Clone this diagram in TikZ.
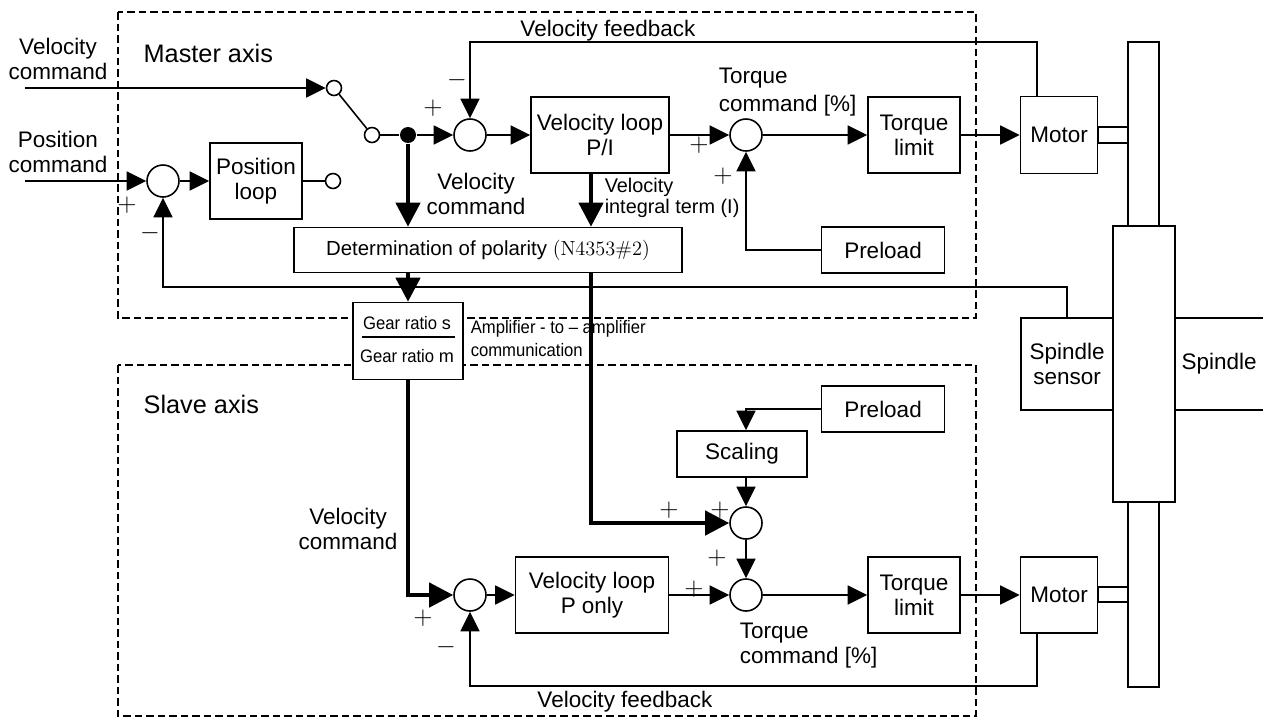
\documentclass[tikz,border=0pt]{standalone}
\usepackage{fontspec}
\usepackage{tikz}
\usetikzlibrary{positioning, calc, arrows.meta}
\newfontfamily\arial{Liberation Sans}
\newfontfamily\arialn[FakeStretch=0.92]{Liberation Sans}

\begin{document}
\begin{tikzpicture}[x=0.02cm, y=-0.02cm, line width=0.9pt,
    font=\arial\fontsize{12.8}{14.2}\selectfont,
    >={Triangle[length=3.9mm, width=3.8mm]},
    blk/.style 2 args={draw, align=center, inner sep=0pt, minimum width=#1*0.02cm, minimum height=#2*0.02cm},
    sum/.style={circle, draw, inner sep=0pt, minimum size=0.64cm},
    term/.style={circle, draw, inner sep=0pt, minimum size=0.3cm},
    junc/.style={circle, fill, inner sep=0pt, minimum size=0.32cm},
    sig/.style={font=\fontsize{15.5}{15.5}\selectfont, inner sep=0pt},
    thk/.style={line width=2.5pt, -{Triangle[length=4.8mm, width=4.8mm]}},
    region/.style={dash pattern=on 1.5mm off 0.8mm}]
    \useasboundingbox (0,0) rectangle (1263,718);

    % Axis frames
    \draw[region] (118,12) rectangle (976,318);
    \draw[region] (118,365) rectangle (976,716);
    \node[anchor=base west, font=\arial\fontsize{14.4}{16}\selectfont] (mastertxt) at (137,62) {Master axis};
    \node[anchor=base west, font=\arial\fontsize{14.4}{16}\selectfont] (slavetxt) at (137,413) {Slave axis};

    % Inputs
    \node[align=center, inner sep=0pt] (vcmdin) at (58,59) {Velocity\\command};
    \node[align=center, inner sep=0pt] (pcmdin) at (58,152) {Position\\command};
    \coordinate (vin) at (25,88);
    \coordinate (pin) at (25,181);

    % Master axis blocks
    \node[term] (sw1) at (334,88) {};
    \node[term] (sw2) at (372,135) {};
    \node[junc] (dot) at (408,135) {};
    \node[sum] (psum) at (163,181) {};
    \node[blk={92}{76}] (posloop) at (256,181) {Position\\loop};
    \node[term] (pout) at (333,181) {};
    \node[sum] (s1) at (470,135) {};
    \node[blk={138}{76}] (vlpi) at (600,135) {Velocity loop\\P/I};
    \node[sum] (s2) at (746,135) {};
    \node[blk={92}{76}] (tlim1) at (914,135) {Torque\\limit};
    \node[blk={77}{77}] (motor1) at (1059,135) {Motor};
    \node[blk={123}{46}] (pre1) at (883,250) {Preload};
    \node[blk={388}{45}, font=\arial\fontsize{11.6}{13}\selectfont] (polarity) at (488,250)
        {Determination of polarity {\rmfamily (N4353\#2)}};

    % Gear ratio (amplifier to amplifier)
    \node[blk={110}{77}, fill=white] (gear) at (408,341) {};
    \node[anchor=base, inner sep=0pt, font=\arialn\fontsize{10.3}{13}\selectfont] (gs) at (407,329) {Gear ratio {\arial s}};
    \node[anchor=base, inner sep=0pt, font=\arialn\fontsize{10.3}{13}\selectfont] (gm) at (407,362) {Gear ratio {\arial m}};
    \draw (362,337) -- (455,337);
    \node[anchor=north west, align=left, inner sep=0pt, font=\arialn\fontsize{10.3}{13}\selectfont] (amptxt) at (470,320)
        {Amplifier - to – amplifier\\communication};

    % Slave axis blocks
    \node[blk={123}{46}] (pre2) at (883,409) {Preload};
    \node[blk={130}{46}] (scaling) at (742,454) {Scaling};
    \node[sum] (s3) at (746,523) {};
    \node[sum] (s4) at (746,595) {};
    \node[sum] (s5) at (470,595) {};
    \node[blk={153}{76}] (vlp) at (592,595) {Velocity loop\\P only};
    \node[blk={92}{76}] (tlim2) at (914,595) {Torque\\limit};
    \node[blk={77}{76}] (motor2) at (1059,595) {Motor};

    % Spindle
    \node[blk={92}{92}] (sensor) at (1067,364) {Spindle\\sensor};
    \node (spindle) at (1219,364) {Spindle};
    \draw (1128,42) rectangle (1159,226);
    \draw (1113,226) rectangle (1175,502);
    \draw (1128,502) rectangle (1159,687);
    \draw (1098,127) rectangle (1128,143);
    \draw (1098,587) rectangle (1128,602);
    \draw (1175,318) -- (1263,318) (1175,410) -- (1263,410);

    % Master signal path
    \draw[->] (vin) -- (sw1);
    \draw (sw1) -- (sw2);
    \draw (sw2) -- (dot);
    \draw[->] (pin) -- (psum);
    \draw[->] (psum) -- (posloop);
    \draw (posloop) -- (pout);
    \draw[->] (dot) -- (s1);
    \draw[->] (s1) -- (vlpi);
    \draw[->] (vlpi) -- (s2);
    \draw[->] (s2) -- (tlim1);
    \draw[->] (tlim1) -- (motor1);
    \draw[->] (pre1.west) -- (pre1.west -| s2) -- (s2);

    % Feedback
    \coordinate (fb1) at (1037,42);
    \coordinate (fb2) at (1037,686);
    \coordinate (fb3) at (1067,287);
    \draw[->] (motor1.north -| fb1) -- (fb1) -- (fb1 -| s1) -- (s1);
    \draw[->] (motor2.south -| fb2) -- (fb2) -- (fb2 -| s5) -- (s5);
    \draw[->] (sensor.north) -- (fb3) -- (fb3 -| psum) -- (psum);

    % Commands passed to the slave
    \coordinate (integ) at (591,523);
    \draw[thk] (dot) -- (polarity.north -| dot);
    \draw[thk] (vlpi.south -| integ) -- (polarity.north -| integ);
    \draw[thk] (polarity.south -| dot) -- (gear.north);
    \draw[thk] (polarity.south -| integ) -- (integ) -- (s3);
    \draw[thk] (gear.south) -- (gear.south |- s5) -- (s5);

    % Slave signal path
    \draw[->] (pre2.west) -- (pre2.west -| s3) -- (scaling.north -| s3);
    \draw[->] (scaling.south -| s3) -- (s3);
    \draw[->] (s3) -- (s4);
    \draw[->] (s5) -- (vlp);
    \draw[->] (vlp) -- (s4);
    \draw[->] (s4) -- (tlim2);
    \draw[->] (tlim2) -- (motor2);

    % Signal labels
    \node[anchor=base] (vfbtxt1) at (608,36) {Velocity feedback};
    \node[anchor=base] (vfbtxt2) at (625,707) {Velocity feedback};
    \node[anchor=north, align=center, inner sep=0pt] (vcmd1) at (476,172) {Velocity\\command};
    \node[anchor=north, align=center, inner sep=0pt] (vcmd2) at (348,507) {Velocity\\command};
    \node[anchor=north west, align=left, inner sep=0pt, font=\arial\fontsize{11.3}{11.9}\selectfont] (integtxt) at (604,177)
        {Velocity\\integral term (I)};
    \node[anchor=north west, align=left, inner sep=0pt, font=\arial\fontsize{12.8}{16}\selectfont] (tcmd1) at (718,67) {Torque\\command [\%]};
    \node[anchor=north west, align=left, inner sep=0pt] (tcmd2) at (739,622) {Torque\\command [\%]};

    % Signs
    \foreach \x/\y/\s [count=\i] in {127/205/+, 150/233/-, 433/108/+, 457/80/-, 699/145/+, 723/176/+,
        669/510/+, 720/510/+, 717/558/+, 694/589/+, 423/618/+, 446/647/-}
        \node[sig] (sg\i) at (\x,\y) {$\s$};
\end{tikzpicture}
\end{document}
